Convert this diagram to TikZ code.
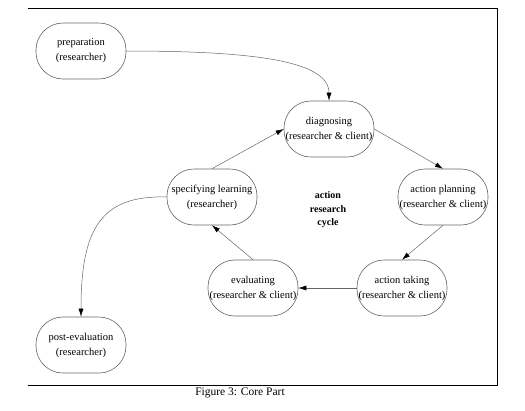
\documentclass[tikz,border=0pt]{standalone}
\usepackage{fontspec}
\setmainfont{Liberation Serif}
\usepackage{tikz}
\usetikzlibrary{arrows.meta}
\definecolor{linegray}{rgb}{0.4,0.4,0.4}

\begin{document}
\begin{tikzpicture}[x=1pt, y=-1pt]
\tikzstyle{stage} = [draw=linegray, line width=0.6pt, rounded corners=27pt, minimum width=90pt, minimum height=56pt, align=center, inner sep=1pt, font=\fontsize{10.5}{15}\selectfont]
\tikzstyle{flow} = [draw=linegray, line width=0.5pt, -{Latex[black, length=8pt, width=5pt]}]

\useasboundingbox (0,0) rectangle (525,410);

% frame
\draw[line width=1pt] (28,8) -- (497,8) -- (497,385) -- (28,385);
\node (caption) at (240,393) {\fontsize{11.5}{13}\selectfont Figure 3: Core Part};

\node[stage] (prep) at (81,51) {preparation\\(researcher)};
\node[stage] (diag) at (329,129) {diagnosing\\(researcher \& client)};
\node[stage] (spec) at (212,197) {specifying learning\\(researcher)};
\node[stage] (plan) at (443,197) {action planning\\(researcher \& client)};
\node[stage] (eval) at (253,288) {evaluating\\(researcher \& client)};
\node[stage] (take) at (402,288) {action taking\\(researcher \& client)};
\node[stage] (post) at (81,345) {post-evaluation\\(researcher)};

\node[align=center, font=\fontsize{10}{13.5}\selectfont\bfseries] (cycle) at (328,210) {action\\research\\cycle};

\draw[flow] (prep.east) .. controls (260,51) and (329,62) .. (diag.north);
\path (diag.east) edge[flow] (plan.north);
\path (plan.south) edge[flow] (take.north);
\path (take.west) edge[flow] (eval.east);
\path (eval.north) edge[flow] (spec.south);
\path (spec.north) edge[flow] (diag.west);
\draw[flow] (spec.west) .. controls (100,195) and (81,230) .. (post.north);
\end{tikzpicture}
\end{document}
